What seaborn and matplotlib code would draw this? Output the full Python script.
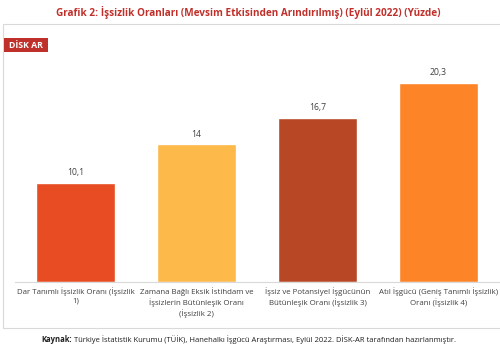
import matplotlib
matplotlib.use("Agg")
import matplotlib.pyplot as plt
from matplotlib.patches import Rectangle
import seaborn as sns
import pandas as pd

categories = [
    "Dar Tanımlı İşsizlik Oranı (İşsizlik\n1)",
    "Zamana Bağlı Eksik İstihdam ve\nİşsizlerin Bütünleşik Oranı\n(İşsizlik 2)",
    "İşsiz ve Potansiyel İşgücünün\nBütünleşik Oranı (İşsizlik 3)",
    "Atıl İşgücü (Geniş Tanımlı İşsizlik)\nOranı (İşsizlik 4)",
]
values = [10.1, 14.0, 16.7, 20.3]
value_labels = ["10,1", "14", "16,7", "20,3"]
colors = ["#E84C22", "#FDB94A", "#B84825", "#FD8527"]

title = "Grafik 2: İşsizlik Oranları (Mevsim Etkisinden Arındırılmış) (Eylül 2022) (Yüzde)"
source_bold = "Kaynak:"
source_rest = " Türkiye İstatistik Kurumu (TÜİK), Hanehalkı İşgücü Araştırması, Eylül 2022. DİSK-AR tarafından hazırlanmıştır."

sns.set_theme(style="white")
plt.rcParams["font.family"] = ["Open Sans", "DejaVu Sans"]

df = pd.DataFrame({"cat": categories, "val": values})

fig = plt.figure(figsize=(5.0, 3.49), dpi=100)

# outer chart frame
fig.patches.append(Rectangle((3 / 500, 1 - 328 / 349), 1.0, (328 - 24) / 349,
                             transform=fig.transFigure, fill=False,
                             edgecolor="#D9D9D9", linewidth=0.8))

ax = fig.add_axes([15 / 500, 1 - 282 / 349, 484 / 500, (282 - 56) / 349])
sns.barplot(data=df, x="cat", y="val", hue="cat", palette=colors,
            legend=False, width=0.66, saturation=1, ax=ax)

ax.set_ylim(0, 23)
ax.set_xlim(-0.5, 3.5)
ax.set_xlabel("")
ax.set_ylabel("")
ax.set_yticks([])
for s in ["top", "right", "left"]:
    ax.spines[s].set_visible(False)
ax.spines["bottom"].set_color("#D9D9D9")
ax.spines["bottom"].set_linewidth(0.8)
ax.tick_params(axis="x", length=0, pad=4, labelsize=5.7, labelcolor="#404040")
for lbl in ax.get_xticklabels():
    lbl.set_linespacing(1.3)

for i, (v, t) in enumerate(zip(values, value_labels)):
    ax.annotate(t, (i, v), xytext=(0, 4), textcoords="offset points",
                ha="center", va="bottom", fontsize=6.2, color="#404040")

fig.text(0.497, 1 - 12 / 349, title, ha="center", va="center",
         fontsize=7.2, fontweight="bold", color="#C0302B")

# DİSK-AR logo
fig.patches.append(Rectangle((4 / 500, 1 - 52 / 349), 44 / 500, 14 / 349,
                             transform=fig.transFigure, facecolor="#C0302B",
                             edgecolor="none"))
fig.text(26 / 500, 1 - 45 / 349, "DİSK AR", ha="center", va="center",
         fontsize=6.3, fontweight="bold", color="white")

src_y = 1 - 340 / 349
src_size = 5.5
t1 = fig.text(0.495, src_y, source_bold + source_rest, ha="center",
              va="center", fontsize=src_size, color="#202020")
fig.canvas.draw()
bb = t1.get_window_extent()
t1.set_text("")
x0 = bb.x0 / fig.bbox.width
tb = fig.text(x0, src_y, source_bold, ha="left", va="center",
              fontsize=src_size, fontweight="bold", color="#202020")
fig.canvas.draw()
bb2 = tb.get_window_extent()
fig.text(bb2.x1 / fig.bbox.width, src_y, source_rest, ha="left",
         va="center", fontsize=src_size, color="#202020")

fig.savefig("out.png", dpi=100, facecolor="white")
